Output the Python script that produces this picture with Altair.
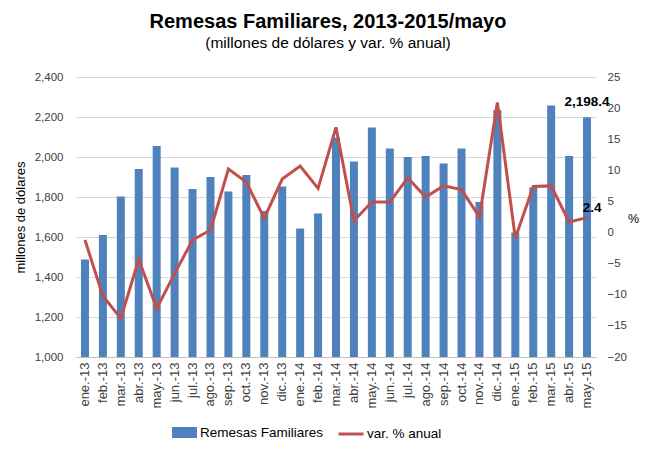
import altair as alt
import pandas as pd

meses = ["ene.-13", "feb.-13", "mar.-13", "abr.-13", "may.-13", "jun.-13", "jul.-13",
         "ago.-13", "sep.-13", "oct.-13", "nov.-13", "dic.-13",
         "ene.-14", "feb.-14", "mar.-14", "abr.-14", "may.-14", "jun.-14", "jul.-14",
         "ago.-14", "sep.-14", "oct.-14", "nov.-14", "dic.-14",
         "ene.-15", "feb.-15", "mar.-15", "abr.-15", "may.-15"]
remesas = [1488, 1610, 1802, 1940, 2055, 1948, 1840, 1900, 1828, 1910, 1730, 1852,
           1642, 1718, 2098, 1977, 2148, 2043, 2000, 2005, 1967, 2043, 1775, 2235,
           1622, 1847, 2257, 2005, 2198.4]
variacion = [-1.2, -10.2, -13.8, -4.3, -12.2, -6.6, -1.2, 0.4, 10.2, 8.1, 2.3, 8.6,
             10.7, 7.1, 16.9, 1.9, 4.9, 4.9, 8.8, 5.7, 7.5, 6.9, 2.5, 20.9,
             -0.9, 7.4, 7.5, 1.7, 2.4]
ticks_left = [1000, 1200, 1400, 1600, 1800, 2000, 2200, 2400]
ticks_right = [-20, -15, -10, -5, 0, 5, 10, 15, 20, 25]

df = pd.DataFrame({"mes": meses, "remesas": remesas, "var": variacion})

FONT = "Liberation Sans"
BLUE = "#4F81BD"
RED = "#C0504D"

x_axis = alt.Axis(labelAngle=270, labelFontSize=13, labelColor="#404040",
                  labelFont=FONT, ticks=False, domainColor="#BFBFBF",
                  labelPadding=5, labelOverlap=False)
x_enc = alt.X("mes:N", sort=meses, title=None,
              scale=alt.Scale(paddingInner=0, paddingOuter=0), axis=x_axis)

left_axis = alt.Axis(values=ticks_left, format=",d", grid=True, gridColor="#D9D9D9",
                     domain=False, ticks=False, labelPadding=13, labelOverlap=False,
                     labelFontSize=11.5, labelColor="#404040", labelFont=FONT,
                     titleFont=FONT, titleFontSize=13, titleFontWeight="normal",
                     titleColor="#000000", titleX=-49)
y_left = alt.Y("remesas:Q", title="millones de dólares", stack=None,
               scale=alt.Scale(domain=[1000, 2400], nice=False, zero=False, clamp=True),
               axis=left_axis)

right_axis = alt.Axis(orient="right", values=ticks_right, grid=False, domain=False,
                      ticks=False, labelPadding=11, labelOverlap=False,
                      labelFontSize=11.5, labelColor="#404040", labelFont=FONT,
                      titleAngle=0, titleX=37, titleY=141, titleAlign="center",
                      titleBaseline="middle", titleFont=FONT, titleFontSize=12.5,
                      titleFontWeight="normal", titleColor="#000000")
y_right = alt.Y("var:Q", title="%",
                scale=alt.Scale(domain=[-20, 25], nice=False, zero=False),
                axis=right_axis)

base = alt.Chart(df)

bars = base.mark_bar(size=8, color=BLUE).transform_calculate(
    s1="'Remesas Familiares'"
).encode(
    x=x_enc,
    y=y_left,
    color=alt.Color("s1:N", scale=alt.Scale(range=[BLUE]),
                    legend=alt.Legend(title=None, orient="none", legendX=96, legendY=343,
                                      symbolType="M-1,-0.44H1V0.44H-1Z", symbolSize=625,
                                      symbolStrokeWidth=0, symbolOpacity=1,
                                      labelFont=FONT, labelFontSize=13.5,
                                      labelColor="#000000", labelOffset=3, padding=0)),
)

bar_label = base.mark_text(fontWeight="bold", fontSize=13.5, font=FONT,
                           baseline="alphabetic", dy=-11, color="#000000").transform_filter(
    alt.datum.mes == "may.-15"
).encode(
    x=x_enc,
    y=y_left,
    text=alt.Text("remesas:Q", format=",.1f"),
)

line = base.mark_line(strokeWidth=3, color=RED).transform_calculate(
    s2="'var. % anual'"
).encode(
    x=x_enc,
    y=y_right,
    stroke=alt.Stroke("s2:N", scale=alt.Scale(range=[RED]),
                      legend=alt.Legend(title=None, orient="none", legendX=261, legendY=343,
                                        symbolType="stroke", symbolSize=625,
                                        symbolStrokeWidth=3,
                                        labelFont=FONT, labelFontSize=13.5,
                                        labelColor="#000000", labelOffset=2, padding=0)),
)

line_label = base.mark_text(fontWeight="bold", fontSize=13.5, font=FONT,
                            align="center", baseline="middle", dx=5, dy=-10,
                            color="#000000").transform_filter(
    alt.datum.mes == "may.-15"
).encode(
    x=x_enc,
    y=y_right,
    text=alt.Text("var:Q", format=".1f"),
)

chart = alt.layer(
    alt.layer(bars, bar_label),
    alt.layer(line, line_label),
).resolve_scale(
    y="independent", color="independent", stroke="independent"
).properties(
    width=520, height=280,
    title=alt.TitleParams(
        text="Remesas Familiares, 2013-2015/mayo",
        subtitle="(millones de dólares y var. % anual)",
        font=FONT, fontSize=20, fontWeight="bold", color="#000000",
        subtitleFont=FONT, subtitleFontSize=15.5, subtitleColor="#000000",
        subtitlePadding=4, anchor="middle", dx=-8, offset=20,
    ),
    autosize=alt.AutoSizeParams(type="none"),
    padding={"left": 68, "top": 69, "right": 43, "bottom": 84},
).configure_view(stroke=None)

chart.save("out.html", embed_options={"renderer": "svg", "actions": False})
